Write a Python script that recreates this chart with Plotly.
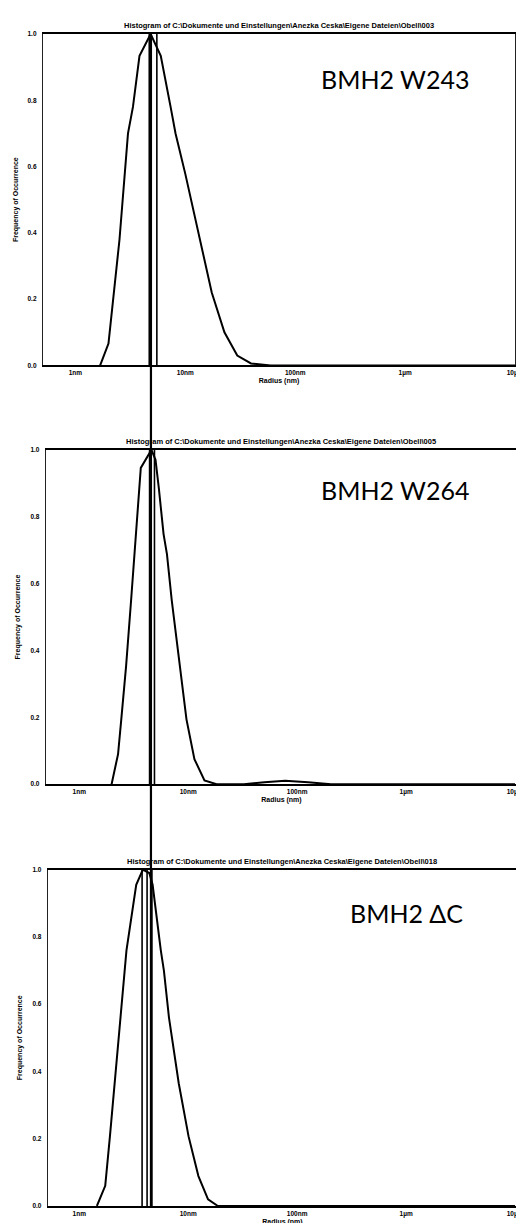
import plotly.graph_objects as go

# ---------------- data (radius in nm, frequency normalised) ----------------
r1 = [1.68, 2.0, 2.52, 3.01, 3.34, 3.83, 4.84, 5.98, 7.35, 8.15, 10.0, 13.1, 17.4, 22.7, 29.7, 39.6, 59.8, 10000]
f1 = [0.0, 0.066, 0.38, 0.70, 0.78, 0.934, 1.0, 0.934, 0.78, 0.70, 0.578, 0.40, 0.22, 0.10, 0.03, 0.006, 0.0, 0.0]

r2 = [1.98, 2.27, 2.43, 2.69, 2.99, 3.31, 3.67, 4.6, 5.01, 5.37, 5.94, 6.38, 7.06, 8.39, 9.64, 11.4, 14.1, 18.2,
      32.4, 50.0, 77.6, 126, 204, 10000]
f2 = [0.0, 0.09, 0.194, 0.353, 0.55, 0.748, 0.946, 1.0, 0.97, 0.886, 0.748, 0.688, 0.55, 0.352, 0.194, 0.075, 0.011, 0.0,
      0.0, 0.006, 0.01, 0.006, 0.0, 0.0]

r3 = [1.45, 1.73, 1.91, 2.2, 2.44, 2.71, 3.33, 3.83, 4.39, 4.71, 5.6, 5.98, 6.65, 8.18, 10.07, 12.4, 15.2, 18.7, 10000]
f3 = [0.0, 0.06, 0.207, 0.434, 0.61, 0.76, 0.955, 1.0, 0.99, 0.955, 0.76, 0.70, 0.561, 0.365, 0.207, 0.089, 0.02, 0.0, 0.0]

# vertical marker lines inside each panel (nm)
marks1 = [4.70, 5.51]
marks2 = [4.42, 4.90]
marks3 = [3.77, 4.19, 4.64]
# long guide line across all three panels (nm, on the first panel's scale)
guide_r = 4.87

titles = [
    "Histogram of C:\\Dokumente und Einstellungen\\Anezka Ceska\\Eigene Dateien\\Obell\\003",
    "Histogram of C:\\Dokumente und Einstellungen\\Anezka Ceska\\Eigene Dateien\\Obell\\005",
    "Histogram of C:\\Dokumente und Einstellungen\\Anezka Ceska\\Eigene Dateien\\Obell\\018",
]
labels = ["BMH2 W243", "BMH2 W264", "BMH2 \u0394C"]
xtick_vals = [1, 10, 100, 1000, 10000]
xtick_text = ["1nm", "10nm", "100nm", "1\u00b5m", "10\u00b5m"]
ytick_vals = [0.0, 0.2, 0.4, 0.6, 0.8, 1.0]
ytick_text = ["0.0", "0.2", "0.4", "0.6", "0.8", "1.0"]

# ---------------- figure ----------------
fig = go.Figure()
panels = [(r1, f1, marks1), (r2, f2, marks2), (r3, f3, marks3)]
ids = ["", "2", "3"]
for (r, f, marks), k in zip(panels, ids):
    for m in marks:
        fig.add_trace(go.Scatter(x=[m, m], y=[0, 1], mode="lines",
                                 line=dict(color="black", width=1.6),
                                 xaxis="x" + k, yaxis="y" + k, hoverinfo="skip"))
    fig.add_trace(go.Scatter(x=r, y=f, mode="lines",
                             line=dict(color="black", width=2),
                             xaxis="x" + k, yaxis="y" + k))

fig.add_trace(go.Scatter(x=[guide_r, guide_r], y=[0, 1], mode="lines", cliponaxis=False,
                         line=dict(color="black", width=2.2), xaxis="x4", yaxis="y4", hoverinfo="skip"))

tick_font = dict(family="Liberation Sans", size=6.5, color="black", weight="bold")
ttl_font = dict(family="Liberation Sans", size=7, color="black", weight="bold")

xdoms = [[0.0, 0.9959], [0.0062, 1.0], [0.0104, 1.0]]
xranges = [[-0.2946, 4.0], [-0.306, 4.018], [-0.288, 4.018]]
ydoms = [[0.7172, 1.0], [0.3599, 0.6452], [0.0, 0.2870]]

layout = dict(
    width=524, height=1223,
    margin=dict(l=35, r=6, t=26, b=16),
    paper_bgcolor="white", plot_bgcolor="rgba(0,0,0,0)",
    showlegend=False,
)
for i, k in enumerate(ids):
    layout["xaxis" + k] = dict(
        type="log", domain=xdoms[i], range=xranges[i], anchor="y" + k,
        tickvals=xtick_vals, ticktext=xtick_text, tickfont=tick_font,
        showgrid=False, zeroline=False, showline=True, linecolor="black", linewidth=2,
        mirror=True, ticks="", ticklen=2,
        title=dict(text="Radius (nm)", font=ttl_font, standoff=2),
    )
    layout["yaxis" + k] = dict(
        domain=ydoms[i], range=[0, 1], anchor="x" + k,
        tickvals=ytick_vals, ticktext=ytick_text, tickfont=tick_font,
        showgrid=False, zeroline=False, showline=True, linecolor="#222", linewidth=1.3,
        mirror=True, ticks="", ticklabelstandoff=4,
        title=dict(text="Frequency of Occurrence", font=ttl_font, standoff=8),
    )
layout["xaxis4"] = dict(type="log", domain=xdoms[0], range=xranges[0], anchor="y4", visible=False)
layout["yaxis4"] = dict(domain=[0, 1], range=[0, 1], anchor="x4", visible=False)
fig.update_layout(**layout)

label_x = [2.91, 2.90, 3.0]
label_y = [0.865, 0.88, 0.87]
for i, k in enumerate(ids):
    fig.add_annotation(text=titles[i], xref=("x" + k) + " domain", yref=("y" + k) + " domain",
                       x=0.5, y=1.0, yanchor="bottom", yshift=2, showarrow=False,
                       font=dict(family="Liberation Sans", size=7.5, color="black", weight="bold"))
    fig.add_annotation(text=labels[i], xref="x" + k, yref="y" + k, x=label_x[i], y=label_y[i],
                       showarrow=False, font=dict(family="Lato", size=25, color="black"))

fig.write_html("out.html")
